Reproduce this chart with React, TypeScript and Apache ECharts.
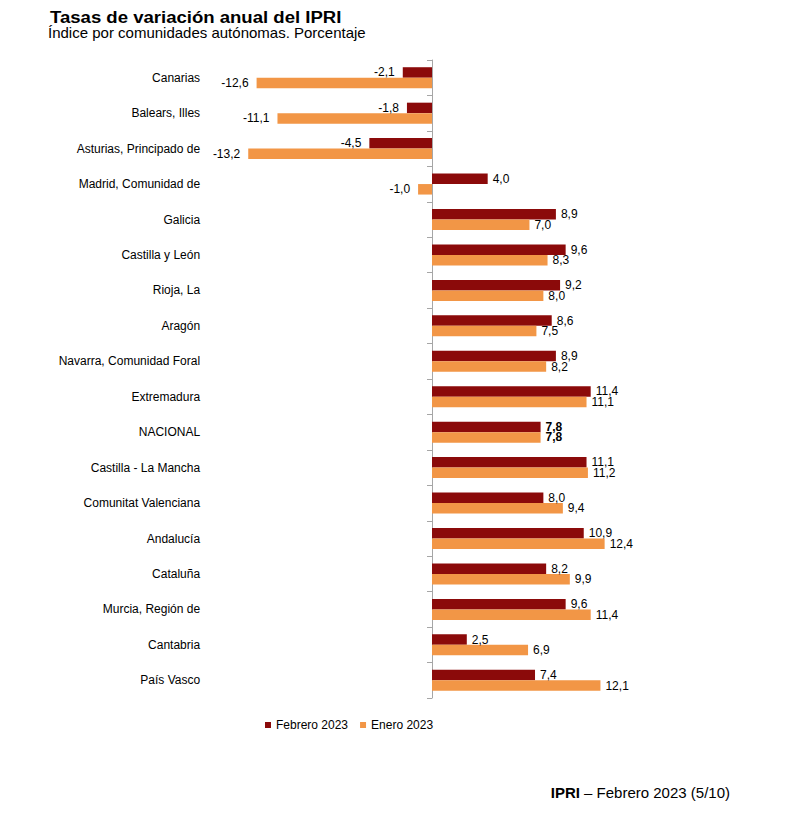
import React, { useEffect, useRef } from "react";
import * as echarts from "echarts";

const categories = [
  "Canarias",
  "Balears, Illes",
  "Asturias, Principado de",
  "Madrid, Comunidad de",
  "Galicia",
  "Castilla y León",
  "Rioja, La",
  "Aragón",
  "Navarra, Comunidad Foral",
  "Extremadura",
  "NACIONAL",
  "Castilla - La Mancha",
  "Comunitat Valenciana",
  "Andalucía",
  "Cataluña",
  "Murcia, Región de",
  "Cantabria",
  "País Vasco",
];

const febrero2023 = [-2.1, -1.8, -4.5, 4.0, 8.9, 9.6, 9.2, 8.6, 8.9, 11.4, 7.8, 11.1, 8.0, 10.9, 8.2, 9.6, 2.5, 7.4];
const enero2023 = [-12.6, -11.1, -13.2, -1.0, 7.0, 8.3, 8.0, 7.5, 8.2, 11.1, 7.8, 11.2, 9.4, 12.4, 9.9, 11.4, 6.9, 12.1];

const seriesNames = ["Febrero 2023", "Enero 2023"];

const FONT = "'Liberation Sans', Arial, Helvetica, sans-serif";

const fmt = (v: number) => v.toFixed(1).replace(".", ",");

function buildData(values: number[]) {
  return values.map((v, i) => {
    const bold = categories[i] === "NACIONAL";
    return {
      value: v,
      label: {
        position: v < 0 ? "left" : "right",
        distance: v < 0 ? 8 : 5,
        fontWeight: bold ? "bold" : "normal",
      },
    };
  });
}

export default function App() {
  const ref = useRef<HTMLDivElement>(null);

  useEffect(() => {
    if (!ref.current) return;
    const chart = echarts.init(ref.current, null, { renderer: "svg" });
    const labelCommon = {
      show: true,
      color: "#000",
      fontSize: 12,
      fontFamily: FONT,
      formatter: (p: any) => fmt(p.value),
    };
    chart.setOption({
      animation: false,
      backgroundColor: "#fff",
      textStyle: { fontFamily: FONT },
      graphic: [
        {
          type: "text",
          x: 50,
          y: 9,
          scaleX: 1.16,
          style: {
            text: "Tasas de variación anual del IPRI",
            font: `bold 16px ${FONT}`,
            fill: "#000",
          },
        },
        {
          type: "text",
          left: 48,
          top: 25,
          style: {
            text: "Índice por comunidades autónomas. Porcentaje",
            font: `15px ${FONT}`,
            fill: "#000",
          },
        },
        {
          type: "text",
          right: 62,
          top: 785,
          style: {
            text: "{b|IPRI} – Febrero 2023 (5/10)",
            font: `15px ${FONT}`,
            fill: "#000",
            rich: {
              b: { fontWeight: "bold", fontSize: 15, fontFamily: FONT, fill: "#000" },
            },
          },
        },
      ],
      legend: {
        left: 260,
        top: 714,
        itemWidth: 6,
        itemHeight: 6,
        itemGap: 12,
        icon: "rect",
        textStyle: { fontSize: 12, color: "#000", fontFamily: FONT },
        data: seriesNames,
      },
      grid: {
        left: 237.1,
        width: 389.8,
        top: 60,
        height: 638,
        containLabel: false,
        outerBoundsMode: "none",
      },
      xAxis: {
        type: "value",
        min: -14,
        max: 14,
        show: false,
        splitLine: { show: false },
      },
      yAxis: {
        type: "category",
        inverse: true,
        data: categories,
        axisLine: { show: true, onZero: true, lineStyle: { color: "#a6a6a6", width: 1 } },
        axisTick: { show: true, length: 5, lineStyle: { color: "#a6a6a6" } },
        axisLabel: {
          margin: 37,
          fontSize: 12,
          color: "#000",
          fontFamily: FONT,
        },
        splitLine: { show: false },
      },
      series: [
        {
          name: seriesNames[0],
          type: "bar",
          barWidth: 10.5,
          barGap: "0%",
          itemStyle: { color: "#8B0A0A" },
          label: labelCommon,
          data: buildData(febrero2023),
        },
        {
          name: seriesNames[1],
          type: "bar",
          barWidth: 10.5,
          barGap: "0%",
          itemStyle: { color: "#F29646" },
          label: labelCommon,
          data: buildData(enero2023),
        },
      ],
    });
    return () => chart.dispose();
  }, []);

  return (
    <div
      ref={ref}
      style={{ position: "fixed", left: 0, top: 0, width: 792, height: 821, background: "#fff" }}
    />
  );
}
